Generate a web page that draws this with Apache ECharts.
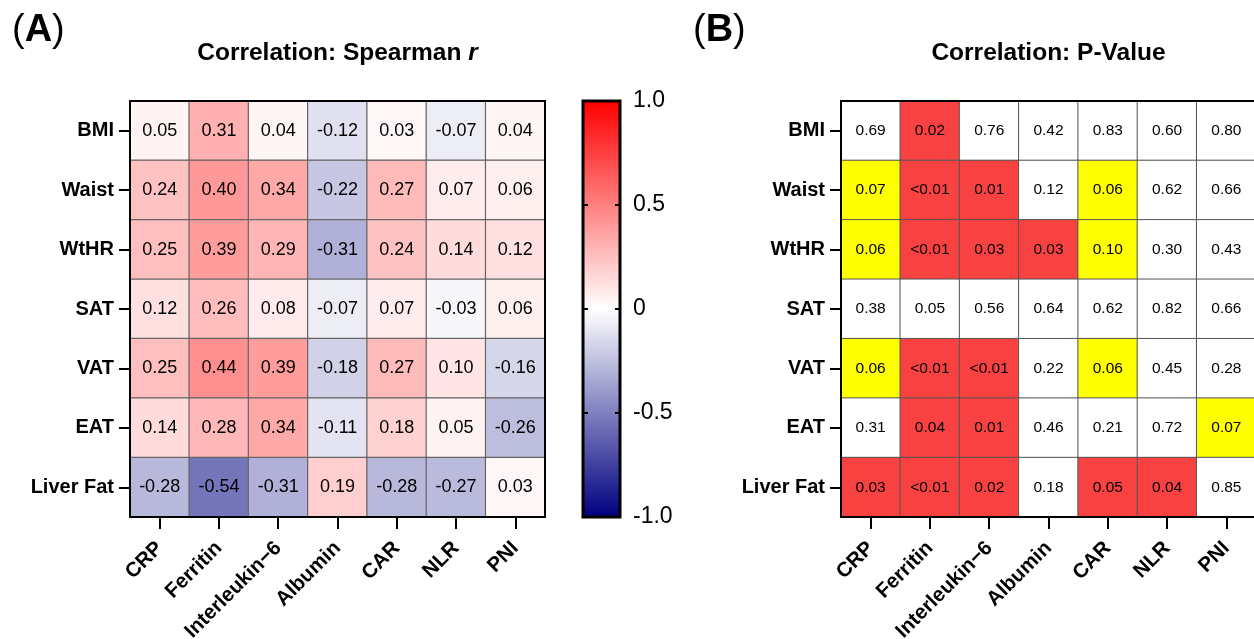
<!DOCTYPE html>
<html>
<head>
<meta charset="utf-8">
<script src="https://cdn.jsdelivr.net/npm/echarts@6/dist/echarts.min.js"></script>
<style>
html,body{margin:0;padding:0;background:#fff;}
#chart{width:1254px;height:639px;}
</style>
</head>
<body>
<div id="chart"></div>
<script>
// ---- categories ----
const rows = ['BMI', 'Waist', 'WtHR', 'SAT', 'VAT', 'EAT', 'Liver Fat'];
const cols = ['CRP', 'Ferritin', 'Interleukin\u22126', 'Albumin', 'CAR', 'NLR', 'PNI'];
const colorbarTicks = [-1, -0.5, 0, 0.5, 1];

// ---- (A) Spearman r, one array per row ----
const rBMI      = [0.05, 0.31, 0.04, -0.12, 0.03, -0.07, 0.04];
const rWaist    = [0.24, 0.40, 0.34, -0.22, 0.27, 0.07, 0.06];
const rWtHR     = [0.25, 0.39, 0.29, -0.31, 0.24, 0.14, 0.12];
const rSAT      = [0.12, 0.26, 0.08, -0.07, 0.07, -0.03, 0.06];
const rVAT      = [0.25, 0.44, 0.39, -0.18, 0.27, 0.10, -0.16];
const rEAT      = [0.14, 0.28, 0.34, -0.11, 0.18, 0.05, -0.26];
const rLiverFat = [-0.28, -0.54, -0.31, 0.19, -0.28, -0.27, 0.03];
const spearman = [rBMI, rWaist, rWtHR, rSAT, rVAT, rEAT, rLiverFat];

// ---- (B) P-values (as printed), one array per row ----
const pBMI      = ['0.69', '0.02', '0.76', '0.42', '0.83', '0.60', '0.80'];
const pWaist    = ['0.07', '<0.01', '0.01', '0.12', '0.06', '0.62', '0.66'];
const pWtHR     = ['0.06', '<0.01', '0.03', '0.03', '0.10', '0.30', '0.43'];
const pSAT      = ['0.38', '0.05', '0.56', '0.64', '0.62', '0.82', '0.66'];
const pVAT      = ['0.06', '<0.01', '<0.01', '0.22', '0.06', '0.45', '0.28'];
const pEAT      = ['0.31', '0.04', '0.01', '0.46', '0.21', '0.72', '0.07'];
const pLiverFat = ['0.03', '<0.01', '0.02', '0.18', '0.05', '0.04', '0.85'];
const pValues = [pBMI, pWaist, pWtHR, pSAT, pVAT, pEAT, pLiverFat];

// significance class per cell: 2 = significant (red), 1 = trend (yellow), 0 = none
const sBMI      = [0, 2, 0, 0, 0, 0, 0];
const sWaist    = [1, 2, 2, 0, 1, 0, 0];
const sWtHR     = [1, 2, 2, 2, 1, 0, 0];
const sSAT      = [0, 0, 0, 0, 0, 0, 0];
const sVAT      = [1, 2, 2, 0, 1, 0, 0];
const sEAT      = [0, 2, 2, 0, 0, 0, 1];
const sLiverFat = [2, 2, 2, 0, 2, 2, 0];
const signif = [sBMI, sWaist, sWtHR, sSAT, sVAT, sEAT, sLiverFat];

// ---- build series data ----
const dataA = [], dataB = [];
rows.forEach((r, i) => {
  cols.forEach((c, j) => {
    dataA.push([j, i, spearman[i][j]]);
    dataB.push([j, i, signif[i][j], pValues[i][j]]);
  });
});

const FONT = '"Liberation Sans", Arial, Helvetica, sans-serif';
const chart = echarts.init(document.getElementById('chart'));

function catX(gi) {
  return {
    type: 'category', gridIndex: gi, data: cols, z: 10,
    axisLine: {show: true, lineStyle: {color: '#000', width: 2}},
    axisTick: {show: true, alignWithLabel: true, length: 12, lineStyle: {color: '#000', width: 2}},
    axisLabel: {rotate: 45, margin: 28, color: '#000', fontFamily: FONT, fontWeight: 'bold', fontSize: 20.5, interval: 0},
    splitLine: {show: false}
  };
}
function catY(gi) {
  return {
    type: 'category', gridIndex: gi, data: rows, inverse: true, z: 10,
    axisLine: {show: true, lineStyle: {color: '#000', width: 2}},
    axisTick: {show: true, alignWithLabel: true, length: 11, lineStyle: {color: '#000', width: 2}},
    axisLabel: {margin: 16, color: '#000', fontFamily: FONT, fontWeight: 'bold', fontSize: 20, interval: 0},
    splitLine: {show: false}
  };
}

const gridBase = {show: true, borderColor: '#000', z: 5, backgroundColor: 'transparent', containLabel: false, outerBoundsMode: 'none'};

const option = {
  backgroundColor: '#fff',
  animation: false,
  textStyle: {fontFamily: FONT},
  graphic: [
    {type: 'text', x: 12, y: 31, style: {
      text: '{p|(}{b|A}{p|)}', textVerticalAlign: 'middle',
      rich: {p: {fontSize: 38, fontFamily: FONT, fill: '#000'}, b: {fontSize: 38, fontFamily: FONT, fontWeight: 'bold', fill: '#000'}}
    }},
    {type: 'text', x: 693, y: 31, style: {
      text: '{p|(}{b|B}{p|)}', textVerticalAlign: 'middle',
      rich: {p: {fontSize: 38, fontFamily: FONT, fill: '#000'}, b: {fontSize: 38, fontFamily: FONT, fontWeight: 'bold', fill: '#000'}}
    }},
    {type: 'text', x: 337.5, y: 53.5, style: {
      text: '{t|Correlation: Spearman }{i|r}', textAlign: 'center', textVerticalAlign: 'middle',
      rich: {t: {fontSize: 24.5, fontFamily: FONT, fontWeight: 'bold', fill: '#000'},
             i: {fontSize: 24.5, fontFamily: FONT, fontWeight: 'bold', fontStyle: 'italic', fill: '#000'}}
    }},
    {type: 'text', x: 1048.5, y: 53.5, style: {
      text: 'Correlation: P-Value', textAlign: 'center', textVerticalAlign: 'middle',
      fontSize: 24.5, fontFamily: FONT, fontWeight: 'bold', fill: '#000'
    }}
  ],
  grid: [
    Object.assign({left: 130, top: 101, width: 415, height: 416, borderWidth: 2}, gridBase),
    Object.assign({left: 841, top: 101, width: 415, height: 416, borderWidth: 2}, gridBase),
    Object.assign({left: 583, top: 101, width: 37, height: 416, borderWidth: 3}, gridBase)
  ],
  xAxis: [
    catX(0), catX(1),
    {type: 'value', gridIndex: 2, show: false, min: 0, max: 1}
  ],
  yAxis: [
    catY(0), catY(1),
    {type: 'value', gridIndex: 2, position: 'left', min: -1, max: 1, interval: 0.5, z: 10,
     axisLine: {show: false}, axisLabel: {show: false}, splitLine: {show: false},
     axisTick: {show: true, inside: true, length: 5, lineStyle: {color: '#000', width: 2}}},
    {type: 'value', gridIndex: 2, position: 'right', min: -1, max: 1, interval: 0.5, z: 10,
     axisLine: {show: false}, splitLine: {show: false},
     axisTick: {show: true, inside: true, length: 5, lineStyle: {color: '#000', width: 2}},
     axisLabel: {show: true, margin: 13, color: '#000', fontFamily: FONT, fontSize: 23,
       formatter: v => (v === 0 ? '0' : v.toFixed(1))}}
  ],
  visualMap: [
    {type: 'continuous', seriesIndex: 0, dimension: 2, min: -1, max: 1,
     left: 583, top: 101, itemWidth: 37, itemHeight: 416, padding: 0,
     calculable: false, text: null, showLabel: false, hoverLink: false,
     inRange: {color: ['#000080', '#ffffff', '#ff0000']}},
    {type: 'piecewise', seriesIndex: 1, dimension: 2, show: false,
     pieces: [{value: 0, color: '#ffffff'}, {value: 1, color: '#ffff00'}, {value: 2, color: '#f84242'}]}
  ],
  series: [
    {type: 'heatmap', xAxisIndex: 0, yAxisIndex: 0, data: dataA,
     itemStyle: {borderColor: '#666', borderWidth: 1.2},
     label: {show: true, color: '#000', fontFamily: FONT, fontSize: 18,
       formatter: p => p.data[2].toFixed(2)},
     emphasis: {disabled: true}},
    {type: 'heatmap', xAxisIndex: 1, yAxisIndex: 1, data: dataB,
     itemStyle: {borderColor: '#555', borderWidth: 1},
     label: {show: true, color: '#000', fontFamily: FONT, fontSize: 15.5,
       formatter: p => p.data[3]},
     emphasis: {disabled: true}}
  ]
};
chart.setOption(option);
</script>
</body>
</html>
